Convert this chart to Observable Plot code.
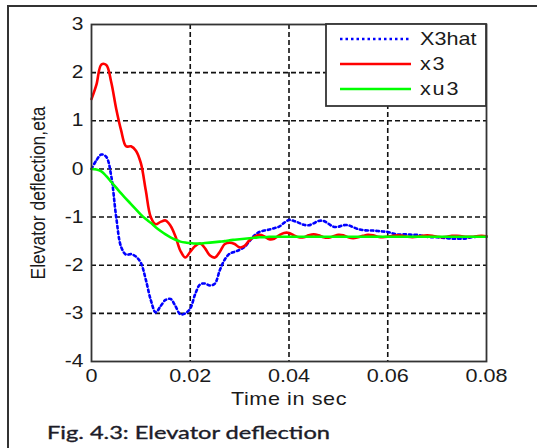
<!DOCTYPE html>
<html><head><meta charset="utf-8">
<script src="https://cdn.jsdelivr.net/npm/d3@7"></script>
<script src="https://cdn.jsdelivr.net/npm/@observablehq/plot@0.6"></script>
<style>body{margin:0;background:#fff} svg{display:block}</style>
</head><body><div id="chart"></div>
<script>
const timeStep = 0.001;
const seriesNames = ["X3hat", "x3", "xu3"];
const x3hat = [0, 0.18, 0.30, 0.25, -0.15, -1.0, -1.62, -1.78, -1.77, -1.82,
  -1.95, -2.3, -2.72, -2.98, -2.85, -2.72, -2.7, -2.85, -3.02, -3.0,
  -2.9, -2.6, -2.4, -2.38, -2.42, -2.38, -2.1, -1.88, -1.76, -1.72,
  -1.68, -1.62, -1.5, -1.38, -1.31, -1.28, -1.26, -1.23, -1.2, -1.12,
  -1.06, -1.08, -1.12, -1.16, -1.17, -1.13, -1.08, -1.08, -1.14, -1.2,
  -1.2, -1.17, -1.17, -1.21, -1.25, -1.27, -1.28, -1.28, -1.29, -1.3,
  -1.31, -1.34, -1.36, -1.36, -1.36, -1.37, -1.37, -1.39, -1.41, -1.42,
  -1.42, -1.43, -1.44, -1.45, -1.45, -1.45, -1.44, -1.42, -1.41, -1.41, -1.41];
const x3 = [1.45, 1.75, 2.17, 2.16, 1.8, 1.25, 0.8, 0.47, 0.47, 0.38,
  0.12, -0.45, -1.0, -1.15, -1.1, -1.07, -1.18, -1.4, -1.7, -1.84,
  -1.72, -1.6, -1.55, -1.65, -1.8, -1.84, -1.72, -1.56, -1.53, -1.56,
  -1.63, -1.6, -1.48, -1.41, -1.37, -1.4, -1.46, -1.45, -1.38, -1.33,
  -1.33, -1.38, -1.42, -1.42, -1.38, -1.36, -1.38, -1.42, -1.43, -1.4,
  -1.37, -1.38, -1.42, -1.44, -1.42, -1.39, -1.37, -1.38, -1.41, -1.42,
  -1.41, -1.39, -1.38, -1.39, -1.41, -1.42, -1.41, -1.39, -1.38, -1.39,
  -1.41, -1.42, -1.41, -1.39, -1.39, -1.4, -1.41, -1.41, -1.4, -1.39, -1.4];
const xu3 = [0, -0.01, -0.05, -0.15, -0.27, -0.39, -0.51, -0.62, -0.73, -0.84,
  -0.95, -1.04, -1.12, -1.21, -1.29, -1.36, -1.42, -1.47, -1.51, -1.53,
  -1.54, -1.55, -1.55, -1.54, -1.53, -1.52, -1.51, -1.5, -1.48, -1.47,
  -1.46, -1.45, -1.44, -1.43, -1.42, -1.42, -1.41, -1.41, -1.41, -1.41,
  -1.41, -1.41, -1.41, -1.41, -1.41, -1.41, -1.41, -1.41, -1.41, -1.41,
  -1.41, -1.41, -1.41, -1.41, -1.41, -1.41, -1.41, -1.41, -1.41, -1.41,
  -1.41, -1.41, -1.41, -1.41, -1.41, -1.41, -1.41, -1.41, -1.41, -1.41,
  -1.41, -1.41, -1.41, -1.41, -1.41, -1.41, -1.41, -1.41, -1.41, -1.41, -1.41];
const xTicks = [0, 0.02, 0.04, 0.06, 0.08];
const yTicks = [-4, -3, -2, -1, 0, 1, 2, 3];
const xGrid = [0.02, 0.04, 0.06];
const yGrid = [-3, -2, -1, 0, 1, 2];
const xLabel = "Time in sec";
const yLabel = "Elevator deflection,eta";
const caption = "Fig. 4.3: Elevator deflection";

const time = x3.map((_, i) => +(i * timeStep).toFixed(3));
const rows = vals => vals.map((v, i) => ({t: time[i], v}));

const W = 537, H = 448, mL = 91, mR = 51, mT = 24, mB = 87;
const font = "'Liberation Sans', Arial, sans-serif";
const colors = ["#0000ff", "#ff0000", "#00ff00"];
const dashes = ["2.5,3", null, null];

const chart = Plot.plot({
  width: W, height: H,
  marginLeft: mL, marginRight: mR, marginTop: mT, marginBottom: mB,
  style: {fontFamily: font, fontSize: "18px", color: "#1a1a1a", background: "#fff"},
  x: {domain: [0, 0.08]},
  y: {domain: [-4, 3]},
  marks: [
    Plot.ruleX(xGrid, {stroke: "#111", strokeWidth: 1.6, strokeDasharray: "5,3"}),
    Plot.ruleY(yGrid, {stroke: "#111", strokeWidth: 1.6, strokeDasharray: "5,3"}),
    Plot.line(rows(x3hat), {x: "t", y: "v", stroke: colors[0], strokeWidth: 2.6, strokeDasharray: dashes[0], curve: "catmull-rom"}),
    Plot.line(rows(x3), {x: "t", y: "v", stroke: colors[1], strokeWidth: 2.6, curve: "catmull-rom"}),
    Plot.line(rows(xu3), {x: "t", y: "v", stroke: colors[2], strokeWidth: 2.6, curve: "catmull-rom"}),
    Plot.frame({stroke: "#333", strokeWidth: 1.8}),
    Plot.axisX({ticks: xTicks, tickFormat: d => String(d), tickSize: 0, tickPadding: 8,
      label: xLabel, labelAnchor: "center", labelOffset: 43, labelArrow: "none", fontSize: 18}),
    Plot.axisY({ticks: yTicks, tickFormat: d => String(d), tickSize: 0, tickPadding: 8,
      label: yLabel, labelAnchor: "center", labelOffset: 61, labelArrow: "none", fontSize: 17.5})
  ]
});
document.getElementById("chart").appendChild(chart);

function stretch(el, sx, sy) {
  const x = parseFloat(el.getAttribute("x"));
  const cx = Number.isFinite(x) && !/em/.test(el.getAttribute("x")) ? x : 0;
  const t = el.getAttribute("transform") || "";
  el.setAttribute("transform", `${t} translate(${cx},0) scale(${sx},${sy}) translate(${-cx},0)`);
}
chart.querySelectorAll('[aria-label="x-axis tick label"] text, [aria-label="y-axis tick label"] text, [aria-label="x-axis label"] text')
  .forEach(el => stretch(el, 1.2, 1));
chart.querySelectorAll('[aria-label="x-axis label"] text').forEach(el => el.setAttribute("letter-spacing", "0.5"));
chart.querySelectorAll('[aria-label="y-axis label"] text').forEach(el => stretch(el, 1, 1.2));

const svg = d3.select(chart);
// outer figure border
svg.append("path").attr("d", `M${W},6H8V${H}`).attr("fill", "none").attr("stroke", "#333").attr("stroke-width", 2);

// legend
const lx = W - mR - 160, ly = mT;
const lg = svg.append("g");
lg.append("rect").attr("x", lx).attr("y", ly).attr("width", 160).attr("height", 82)
  .attr("fill", "#fff").attr("stroke", "#333").attr("stroke-width", 1.8);
seriesNames.forEach((name, i) => {
  const yy = ly + 15 + i * 25;
  lg.append("line").attr("x1", lx + 14).attr("x2", lx + 85).attr("y1", yy).attr("y2", yy)
    .attr("stroke", colors[i]).attr("stroke-width", 2.6).attr("stroke-dasharray", dashes[i]);
  const t = lg.append("text").attr("x", lx + 94).attr("y", yy + 6.5).attr("text-anchor", "start")
    .attr("font-family", font).attr("font-size", 18).attr("fill", "#1a1a1a")
    .attr("letter-spacing", i ? 1.5 : 0).text(name);
  stretch(t.node(), 1.2, 1);
});

// caption
svg.append("text").attr("x", 47).attr("y", 439).attr("text-anchor", "start")
  .attr("font-family", "Lato, 'Open Sans', sans-serif").attr("font-size", 17).attr("font-weight", 400)
  .attr("fill", "#1c1c28").attr("stroke", "#1c1c28").attr("stroke-width", 0.35)
  .attr("textLength", 283).attr("lengthAdjust", "spacingAndGlyphs")
  .text(caption);
</script>
</body></html>
